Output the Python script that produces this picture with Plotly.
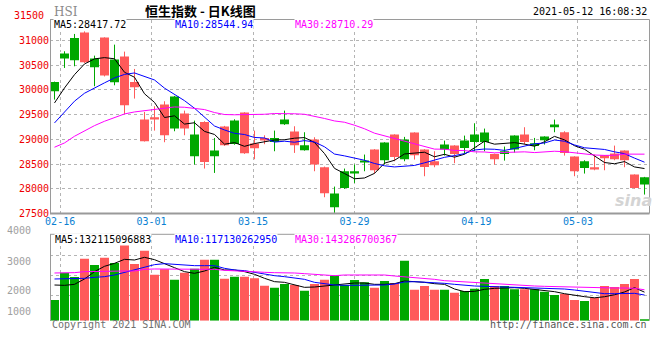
import plotly.graph_objects as go

# ---------------- data ----------------
dates = ["02-11", "02-16", "02-17", "02-18", "02-19", "02-22", "02-23", "02-24", "02-25", "02-26",
         "03-01", "03-02", "03-03", "03-04", "03-05", "03-08", "03-09", "03-10", "03-11", "03-12",
         "03-15", "03-16", "03-17", "03-18", "03-19", "03-22", "03-23", "03-24", "03-25", "03-26",
         "03-29", "03-30", "03-31", "04-01", "04-07", "04-08", "04-09", "04-12", "04-13", "04-14",
         "04-15", "04-16", "04-19", "04-20", "04-21", "04-22", "04-23", "04-26", "04-27", "04-28",
         "04-29", "04-30", "05-03", "05-04", "05-05", "05-06", "05-07", "05-10", "05-11", "05-12"]

opens = [29970, 30630, 30596, 31155, 30455, 31054, 30152, 30670, 30158, 29398,
         29445, 29700, 29216, 29519, 28657, 29350, 28657, 29256, 28906, 29539,
         28913, 29027, 28946, 29303, 29155, 28778, 28994, 28435, 27627, 28017,
         28327, 28536, 28792, 28576, 29095, 28596, 29135, 28792, 28556, 28792,
         28872, 28825, 28946, 28946, 28704, 28704, 28792, 29095, 28866, 28980,
         29243, 29142, 28650, 28421, 28435, 28677, 28710, 28771, 28287, 28084]
highs = [30165, 30778, 31128, 31180, 30690, 31060, 30912, 30771, 30421, 29552,
         29667, 29768, 29876, 29579, 29377, 29364, 29027, 29270, 29404, 29546,
         29175, 29080, 29175, 29579, 29263, 29142, 29041, 28448, 28044, 28408,
         28489, 28691, 28800, 28940, 29100, 29048, 29140, 28800, 28758, 28973,
         28880, 29074, 29323, 29216, 28710, 28852, 29080, 29243, 29027, 29060,
         29398, 29162, 28655, 28576, 28691, 28680, 28872, 28775, 28290, 28240]
lows = [29801, 30441, 30475, 30540, 30071, 30270, 30091, 29512, 29822, 28955,
        29175, 28940, 29162, 29081, 28489, 28408, 28320, 28865, 28890, 28705,
        28596, 28900, 28758, 29290, 28724, 28770, 28354, 27829, 27512, 27997,
        28118, 28354, 28307, 28489, 28556, 28556, 28590, 28253, 28435, 28670,
        28516, 28704, 28758, 28758, 28489, 28569, 28731, 28893, 28778, 28893,
        29142, 28670, 28253, 28307, 28374, 28374, 28576, 28435, 28003, 27883]
closes = [30158, 30731, 31047, 30556, 30630, 30286, 30610, 29687, 30051, 28960,
          29418, 29081, 29862, 29216, 29095, 28542, 28771, 28879, 29377, 28718,
          28818, 28987, 29027, 29398, 28879, 28879, 28489, 27910, 27903, 28354,
          28354, 28569, 28374, 28933, 28643, 28994, 28677, 28441, 28475, 28893,
          28704, 28973, 29095, 29135, 28596, 28758, 29074, 28946, 28919, 29054,
          29297, 28724, 28354, 28556, 28401, 28617, 28596, 28576, 28017, 28233]

ma5 = [29734, 30037, 30306, 30522, 30624, 30650, 30626, 30354, 30253, 29919,
       29745, 29439, 29474, 29307, 29334, 29159, 29097, 28901, 28933, 28857,
       28913, 28956, 28985, 28990, 29022, 29034, 28934, 28711, 28412, 28307,
       28202, 28218, 28311, 28517, 28575, 28703, 28724, 28738, 28646, 28696,
       28638, 28697, 28828, 28960, 28901, 28911, 28932, 28902, 28859, 28950,
       29058, 28988, 28870, 28797, 28666, 28530, 28505, 28549, 28441, 28408]
ma10 = [29330, 29560, 29770, 29930, 30040, 30140, 30240, 30310, 30340, 30272,
        30198, 30033, 29914, 29780, 29627, 29452, 29268, 29188, 29120, 29096,
        29036, 29027, 28943, 28961, 28940, 28973, 28945, 28848, 28701, 28664,
        28618, 28576, 28511, 28464, 28441, 28452, 28471, 28524, 28581, 28635,
        28670, 28711, 28783, 28803, 28798, 28775, 28814, 28865, 28909, 28925,
        28985, 28960, 28886, 28828, 28808, 28794, 28746, 28709, 28619, 28537]
ma30 = [28839, 28926, 29061, 29175, 29276, 29364, 29431, 29512, 29552, 29579,
        29606, 29633, 29653, 29647, 29626, 29600, 29540, 29500, 29495, 29495,
        29500, 29505, 29520, 29525, 29515, 29505, 29470, 29420, 29370, 29344,
        29284, 29212, 29123, 29069, 29002, 28959, 28895, 28853, 28801, 28799,
        28775, 28771, 28746, 28743, 28726, 28733, 28744, 28746, 28731, 28742,
        28758, 28749, 28726, 28698, 28682, 28674, 28677, 28700, 28703, 28699]

# turnover (100 million HKD)
volume = [958, 2224, 2023, 2872, 2579, 2918, 2672, 3551, 2625, 3242,
          2131, 2378, 1900, 2224, 2409, 2826, 2826, 1946, 2039, 2039,
          1962, 1622, 1529, 1699, 1652, 1390, 1699, 1900, 2085, 1652,
          1884, 1776, 1529, 1838, 1745, 2779, 1437, 1607, 1437, 1437,
          1298, 1375, 1483, 1931, 1607, 1607, 1452, 1452, 1452, 1344,
          1190, 1236, 958, 912, 1066, 1607, 1560, 1699, 1931, 40]
vma5 = [1653, 1637, 1684, 1931, 2271, 2518, 2656, 2841, 2810, 2934,
        2826, 2656, 2455, 2271, 2193, 2301, 2471, 2348, 2348, 2271,
        2147, 1962, 1807, 1776, 1653, 1545, 1560, 1607, 1653, 1684,
        1745, 1745, 1684, 1684, 1714, 1838, 1822, 1776, 1714, 1684,
        1467, 1344, 1359, 1452, 1498, 1529, 1529, 1498, 1452, 1406,
        1344, 1251, 1174, 1112, 1060, 1110, 1200, 1330, 1530, 1321]
vma10 = [1931, 1931, 1946, 1962, 2008, 2039, 2116, 2240, 2333, 2471,
         2595, 2641, 2610, 2564, 2548, 2548, 2548, 2425, 2348, 2317,
         2240, 2131, 2085, 2039, 1993, 1915, 1776, 1699, 1653, 1637,
         1637, 1637, 1637, 1653, 1699, 1792, 1807, 1792, 1776, 1730,
         1684, 1637, 1607, 1591, 1576, 1560, 1560, 1545, 1529, 1514,
         1498, 1467, 1421, 1359, 1297, 1251, 1251, 1251, 1267, 1190]
vma30 = [2209, 2209, 2224, 2271, 2286, 2286, 2286, 2301, 2301, 2378,
         2394, 2394, 2378, 2378, 2378, 2378, 2378, 2332, 2301, 2286,
         2271, 2240, 2224, 2224, 2209, 2178, 2147, 2116, 2085, 2116,
         2116, 2131, 2147, 2116, 2070, 2039, 2008, 1962, 1915, 1853,
         1823, 1792, 1776, 1761, 1730, 1684, 1653, 1622, 1607, 1591,
         1576, 1560, 1545, 1545, 1529, 1529, 1514, 1514, 1498, 1433]

tick_dates = ["02-16", "03-01", "03-15", "03-29", "04-19", "05-03"]
price_ticks = [27500, 28000, 28500, 29000, 29500, 30000, 30500, 31000]
vol_labels = ["4000", "3000", "2000", "1000"]

legend_main = ["MA5:28417.72", "MA10:28544.94", "MA30:28710.29"]
legend_vol = ["MA5:132115096883", "MA10:117130262950", "MA30:143286700367"]

# ---------------- style ----------------
W, H = 660, 360
L, R = 50, 11
GREEN = "#00a800"
RED = "#ff5a5a"
GRID = "#b4b4b4"
FRAME = "#9a9a9a"
MONO = "DejaVu Sans Mono"
n = len(dates)
idx = list(range(n))
XR = [-0.45, n - 0.55]


def px(x):
    return (x - L) / (W - L - R)


def py(y):
    return (H - y) / H


up = [c >= o for o, c in zip(opens, closes)]
colors = [GREEN if u else RED for u in up]
body_base = [min(o, c) for o, c in zip(opens, closes)]
body_h = [max(abs(c - o), 12) for o, c in zip(opens, closes)]

# grid positions (sina spreads the date grid slightly wider than the candle pitch)
step = (XR[1] - XR[0]) / (n - 1)
tick_pos = [XR[0] + dates.index(d) * step for d in tick_dates]

fig = go.Figure()

# wicks
for col, flag in ((GREEN, True), (RED, False)):
    xs, ys = [], []
    for i in idx:
        if up[i] == flag:
            xs += [i, i, None]
            ys += [lows[i], highs[i], None]
    fig.add_trace(go.Scatter(x=xs, y=ys, mode="lines", line=dict(color=col, width=1),
                             xaxis="x", yaxis="y", hoverinfo="skip"))

# bodies
fig.add_trace(go.Bar(x=idx, y=body_h, base=body_base, width=0.9,
                     marker=dict(color=colors, line=dict(width=0)),
                     xaxis="x", yaxis="y"))

# moving averages
for arr, col in ((ma5, "black"), (ma10, "#0000ff"), (ma30, "#ff00ff")):
    fig.add_trace(go.Scatter(x=idx, y=arr, mode="lines", line=dict(color=col, width=1),
                             xaxis="x", yaxis="y"))

# volume
fig.add_trace(go.Bar(x=idx, y=volume, width=0.9,
                     marker=dict(color=colors, line=dict(width=0)),
                     xaxis="x2", yaxis="y2"))
for arr, col in ((vma5, "black"), (vma10, "#0000ff"), (vma30, "#ff00ff")):
    fig.add_trace(go.Scatter(x=idx, y=arr, mode="lines", line=dict(color=col, width=1),
                             xaxis="x2", yaxis="y2"))

main_dom = [py(213.5), py(19.5)]
vol_dom = [py(320.7), py(234.3)]

fig.update_layout(
    width=W, height=H,
    margin=dict(l=L, r=R, t=0, b=0, pad=0),
    paper_bgcolor="white", plot_bgcolor="white",
    showlegend=False, barmode="overlay",
    font=dict(family=MONO, size=10),
    xaxis=dict(domain=[0, 1], range=XR, tickmode="array", tickvals=tick_pos,
               ticktext=tick_dates, tickfont=dict(color="#0a7fd2", size=10, family=MONO),
               showgrid=True, gridcolor=GRID, griddash="dot", gridwidth=1,
               zeroline=False, showline=False, ticks="", anchor="y", automargin=False),
    yaxis=dict(domain=main_dom, range=[27500, 31420], tickmode="array", tickvals=price_ticks,
               ticktext=[str(v) for v in price_ticks],
               tickfont=dict(color="#ee0000", size=10, family=MONO),
               showgrid=True, gridcolor=GRID, griddash="dot", gridwidth=1,
               zeroline=False, showline=False, ticks="", anchor="x", automargin=False),
    xaxis2=dict(domain=[0, 1], range=XR, tickmode="array", tickvals=tick_pos,
                showticklabels=False, showgrid=True, gridcolor=GRID, griddash="dot",
                gridwidth=1, zeroline=False, showline=False, ticks="", anchor="y2",
                automargin=False),
    yaxis2=dict(domain=vol_dom, range=[0, 4000], tickmode="array",
                tickvals=[3010, 2084, 1158], showticklabels=False,
                showgrid=True, gridcolor=GRID, griddash="dot", gridwidth=1,
                zeroline=False, showline=False, ticks="", anchor="x2", automargin=False),
)

shapes = []


def frame_line(x0, y0, x1, y1, w=1):
    shapes.append(dict(type="line", xref="paper", yref="paper", x0=px(x0), y0=py(y0),
                       x1=px(x1), y1=py(y1), line=dict(color=FRAME, width=w), layer="above"))


frame_line(50, 19.5, 649.5, 19.5)
frame_line(50, 213.5, 649.5, 213.5, 2)
frame_line(50.5, 19.5, 50.5, 213.5)
frame_line(649.5, 19.5, 649.5, 213.5)
frame_line(50, 234.3, 649.5, 234.3)
frame_line(50.5, 234.3, 50.5, 320.7)
frame_line(649.5, 234.3, 649.5, 320.7)
fig.update_layout(shapes=shapes)

ann = []


def text(x, y, s, color="black", size=10, family=MONO, xanchor="left", bg=None, **kw):
    d = dict(x=px(x), y=py(y), xref="paper", yref="paper", text=s, showarrow=False,
             xanchor=xanchor, yanchor="middle", font=dict(color=color, size=size, family=family))
    if bg:
        d["bgcolor"] = bg
    d.update(kw)
    ann.append(d)


text(52, 12, "HSI", color="#8a8a8a", size=12, family="DejaVu Serif")
text(200, 10, "<b>恒生指数 - 日K线图</b>", size=13, family="Noto Sans CJK SC", xanchor="center")
text(649, 11, "2021-05-12 16:08:32", xanchor="right")
text(46, 16, "31500", color="#ee0000", xanchor="right")

for s, x, c in zip(legend_main, [53, 174, 294], ["black", "#0000ff", "#ff00ff"]):
    text(x, 25, s, color=c, bg="white", borderpad=0)
for s, x, c in zip(legend_vol, [54, 174, 294], ["black", "#0000ff", "#ff00ff"]):
    text(x, 239, s, color=c, bg="white", borderpad=0)

for s, y in zip(vol_labels, [231, 261, 290, 311]):
    text(5, y, s, color="#a0a0a0")

text(50, 324, "Copyright 2021 SINA.COM", color="#707070")
text(649, 324, "http://finance.sina.com.cn", color="#555555", xanchor="right")
text(633, 200, "<b><i>sina</i></b>", color="#d4d4d4", size=16, family="DejaVu Sans",
     xanchor="center")

fig.update_layout(annotations=ann)
fig.write_html("out.html", config={"displayModeBar": False},
               post_script="document.body.style.margin='0';document.body.style.padding='0';")
